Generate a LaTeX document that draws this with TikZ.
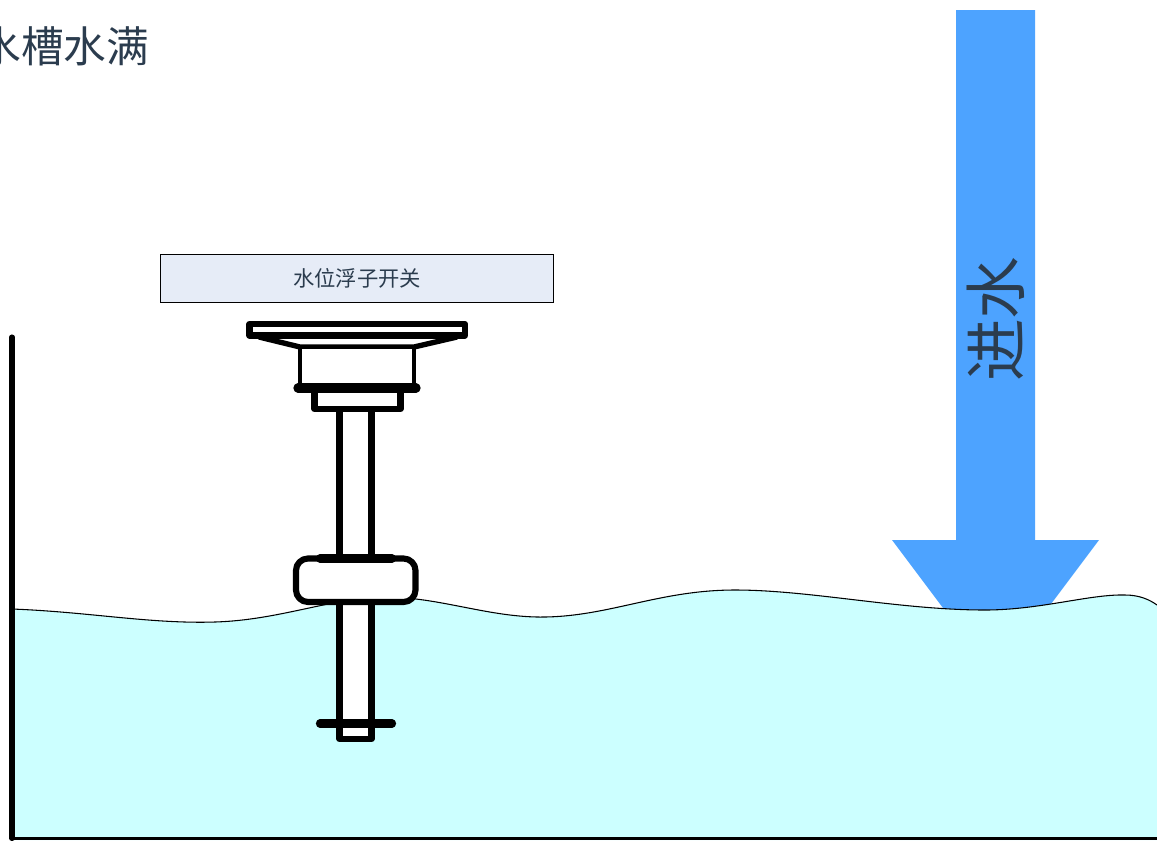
\documentclass[tikz,border=0pt]{standalone}
\usepackage{fontspec}
\usepackage{tikz}
\newfontfamily\cjk{Noto Sans CJK SC}
\definecolor{waterblue}{HTML}{CCFFFF}
\definecolor{arrowblue}{HTML}{4DA3FF}
\definecolor{labelfill}{HTML}{E6ECF7}
\definecolor{textdark}{HTML}{2B3C4E}

\begin{document}
\begin{tikzpicture}[x=0.75pt, y=-0.75pt,
    sensorpart/.style={draw=black, fill=white, line width=4.6pt, line join=round},
    sensorbar/.style={draw=black, line width=6.2pt, line cap=round}]
  \useasboundingbox (0,0) rectangle (1157,840);
  \clip (0,0) rectangle (1157,840);

  % Titre
  \node[anchor=east, inner sep=0pt, text=textdark, font=\cjk\fontsize{32pt}{36pt}\selectfont] (title) at (149.5,46) {水槽水满};

  % Fleche d'arrivee d'eau
  \fill[arrowblue] (956,10) -- (1035,10) -- (1035,540) -- (1099,540) -- (995.5,678) -- (892,540) -- (956,540) -- cycle;
  \node[rotate=90, inner sep=0pt, text=textdark, font=\cjk\fontsize{47pt}{50pt}\selectfont] (inlet) at (996,319) {进水};

  % Eau
  \fill[waterblue] (12,609) .. controls (90,612) and (150,624) .. (215,622)
    .. controls (280,620) and (330,598) .. (385,597)
    .. controls (440,597) and (490,618) .. (545,617)
    .. controls (610,616) and (660,590) .. (735,590)
    .. controls (810,590) and (900,610) .. (985,610)
    .. controls (1040,610) and (1090,594) .. (1125,595)
    .. controls (1140,595) and (1150,600) .. (1157,605) -- (1157,840) -- (12,840) -- cycle;
  \draw[black, line width=0.8pt] (12,609) .. controls (90,612) and (150,624) .. (215,622)
    .. controls (280,620) and (330,598) .. (385,597)
    .. controls (440,597) and (490,618) .. (545,617)
    .. controls (610,616) and (660,590) .. (735,590)
    .. controls (810,590) and (900,610) .. (985,610)
    .. controls (1040,610) and (1090,594) .. (1125,595)
    .. controls (1140,595) and (1150,600) .. (1157,605);

  % Cuve
  \draw[black, line width=3.8pt, line cap=round] (12,337) -- (12,838.5);
  \draw[black, line width=2.2pt] (12,838.5) -- (1157,838.5);

  % Etiquette
  \node[draw=black, line width=0.6pt, fill=labelfill, minimum width=294.75pt, minimum height=36pt, inner sep=0pt, text=textdark, font=\cjk\fontsize{16pt}{18pt}\selectfont] (label) at (357,278) {水位浮子开关};

  % Tige
  \draw[sensorpart] (339.5,405) rectangle (371.5,739);

  % Tete du capteur
  \draw[sensorpart, line width=4pt] (259,337) -- (300,347) -- (414,347) -- (457,337);
  \draw[sensorpart, line width=3.2pt] (300,347) rectangle (414,388);
  \draw[sensorpart] (314.5,388) rectangle (400.5,409);
  \draw[sensorpart] (249.5,324) rectangle (465,335.5);
  \draw[sensorbar, line width=7pt] (298,388) -- (416,388);

  % Flotteur
  \draw[sensorpart, line width=4.6pt, rounded corners=9pt] (296,558.5) rectangle (415.5,602);
  \draw[sensorbar] (320,558.5) -- (392,558.5);
  \draw[sensorbar] (320,723.5) -- (392,723.5);
\end{tikzpicture}
\end{document}
